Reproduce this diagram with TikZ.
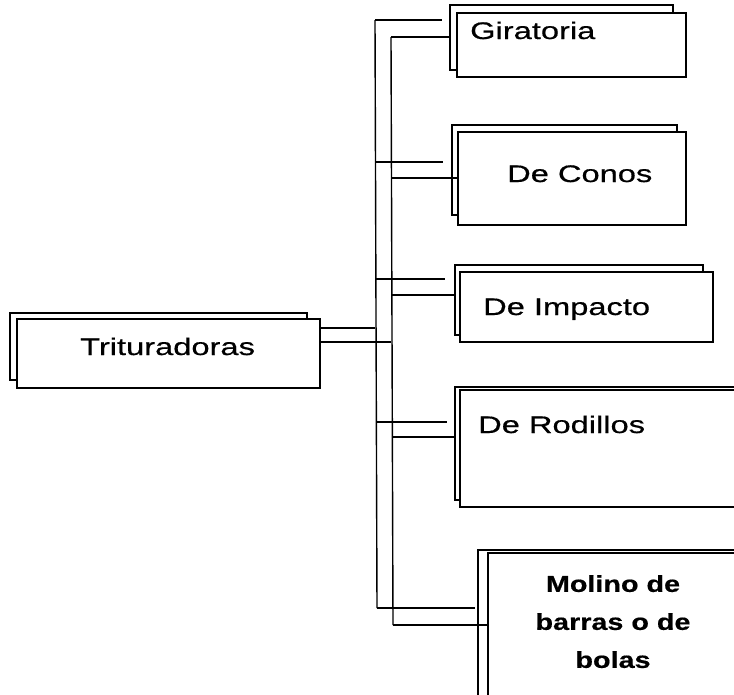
\documentclass[tikz,border=0pt]{standalone}
\usepackage{fontspec}
\setmainfont{Liberation Sans}[FakeStretch=1.36,FakeBold=0.6]
\newfontfamily\boldwide{Liberation Sans Bold}[FakeStretch=1.25,FakeBold=0.5]
\begin{document}
\begin{tikzpicture}[x=1pt,y=-1pt,
  shadowbox/.style={draw=black, fill=white, line width=2.8pt, inner sep=0pt, outer sep=0pt, anchor=north west},
  mainbox/.style={draw=black, fill=white, line width=1.6pt, inner sep=0pt, outer sep=0pt, anchor=north west},
  lbl/.style={inner sep=0pt, font=\fontsize{24}{28}\selectfont},
  conn/.style={draw=black, line width=1.4pt}]
\useasboundingbox (0,0) rectangle (734,694);
\clip (0,0) rectangle (734,694);
\coordinate (ta) at (375,20);
\coordinate (tb) at (391,37);
% boxes
\node[shadowbox, minimum width=297pt, minimum height=67pt] (triS) at (10,313) {};
\node[mainbox, minimum width=303pt, minimum height=69pt] (tri) at (17,319) {};
\node[shadowbox, minimum width=223pt, minimum height=65pt] (girS) at (450,5) {};
\node[mainbox, minimum width=229pt, minimum height=64pt] (gir) at (457,13) {};
\node[shadowbox, minimum width=225pt, minimum height=90pt] (conS) at (452,125) {};
\node[mainbox, minimum width=228pt, minimum height=93pt] (con) at (458,132) {};
\node[shadowbox, minimum width=248pt, minimum height=70pt] (impS) at (455,265) {};
\node[mainbox, minimum width=253pt, minimum height=70pt] (imp) at (460,272) {};
\node[shadowbox, minimum width=300pt, minimum height=113pt] (rodS) at (455,387) {};
\node[mainbox, minimum width=300pt, minimum height=117pt] (rod) at (460,390) {};
\node[shadowbox, minimum width=300pt, minimum height=160pt] (molS) at (478,550) {};
\node[mainbox, minimum width=300pt, minimum height=160pt] (mol) at (488,553) {};
% outer connector set
\draw[conn] (tri.east |- 0,328) -- (375,328);
\draw[conn] (ta) -- (377,608);
\draw[conn] (ta) -- ([xshift=-8pt]girS.west |- ta);
\draw[conn] (375,162) -- ([xshift=-9pt]conS.west |- 0,162);
\draw[conn] (375,279) -- ([xshift=-10pt]impS.west |- 0,279);
\draw[conn] (376,422) -- ([xshift=-8pt]rodS.west |- 0,422);
\draw[conn] (377,608) -- ([xshift=-3pt]molS.west |- 0,608);
% inner connector set
\draw[conn] (tri.east |- 0,342) -- (391,342);
\draw[conn] (tb) -- (393,625);
\draw[conn] (tb) -- (girS.west |- tb);
\draw[conn] (391,178) -- (con.west |- 0,178);
\draw[conn] (391,295) -- (impS.west |- 0,295);
\draw[conn] (392,437) -- (rodS.west |- 0,437);
\draw[conn] (393,625) -- (mol.west |- 0,625);
% labels
\node[lbl, anchor=base west] (triT) at (80,355) {Trituradoras};
\node[lbl, anchor=base west] (girT) at (470,39) {Giratoria};
\node[lbl, anchor=base west] (conT) at (507,182) {De Conos};
\node[lbl, anchor=base west] (impT) at (483,315) {De Impacto};
\node[lbl, anchor=base west] (rodT) at (478,433) {De Rodillos};
\node[inner sep=0pt, anchor=north, align=center, font=\boldwide\fontsize{23}{38}\selectfont] (molT) at (613,575) {Molino de\\barras o de\\bolas};
\end{tikzpicture}
\end{document}
